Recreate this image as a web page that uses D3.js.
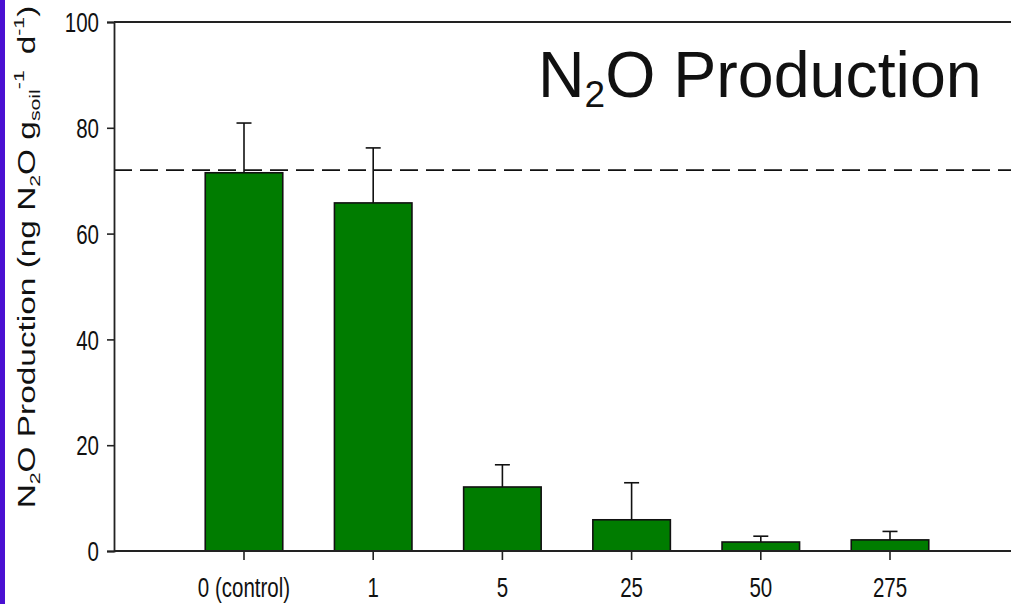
<!DOCTYPE html>
<html>
<head>
<meta charset="utf-8">
<script src="https://cdn.jsdelivr.net/npm/d3@7"></script>
<style>
  html, body { margin: 0; padding: 0; background: #fff; }
  svg { display: block; }
</style>
</head>
<body>
<svg id="chart" width="1011" height="604"></svg>
<script>
// Nitrification inhibitor dose (x categories) and mean N2O production with SE
const categories = ["0 (control)", "1", "5", "25", "50", "275"];
const meanValues = [71.5, 65.8, 12.1, 5.9, 1.7, 2.1];
const errorValues = [9.4, 10.4, 4.2, 7.0, 1.1, 1.6];
const yTicks = [0, 20, 40, 60, 80, 100];
const referenceLevel = 72;

const svg = d3.select("#chart");
const W = 1011, H = 604;
const FONT = "'Liberation Sans', Arial, sans-serif";
const STRETCH = 1.35; // the plot's lettering is drawn taller than wide

// Left accent strip
svg.append("rect").attr("x", 0).attr("y", 0).attr("width", 5).attr("height", H)
  .attr("fill", "#4a10d2");

const axisLeftX = 114;
const y = d3.scaleLinear().domain([0, 100]).range([551, 22]);
const x = d3.scaleBand().domain(categories)
  .range([179.4, 954.6]).paddingInner(0.4).paddingOuter(0.2);

const data = categories.map((c, i) => ({ cat: c, mean: meanValues[i], err: errorValues[i] }));

// Error bars (upper only), drawn behind bars
const eb = svg.append("g").attr("stroke", "#111").attr("stroke-width", 1.6);
data.forEach(d => {
  const cx = x(d.cat) + x.bandwidth() / 2;
  eb.append("line").attr("x1", cx).attr("x2", cx)
    .attr("y1", y(d.mean)).attr("y2", y(d.mean + d.err));
  eb.append("line").attr("x1", cx - 7.5).attr("x2", cx + 7.5)
    .attr("y1", y(d.mean + d.err)).attr("y2", y(d.mean + d.err));
});

// Bars
svg.append("g").selectAll("rect").data(data).join("rect")
  .attr("x", d => x(d.cat))
  .attr("y", d => y(d.mean))
  .attr("width", x.bandwidth())
  .attr("height", d => y(0) - y(d.mean))
  .attr("fill", "#007c00")
  .attr("stroke", "#111")
  .attr("stroke-width", 1.6);

// Dashed reference line at the control level
svg.append("line")
  .attr("x1", axisLeftX).attr("x2", W)
  .attr("y1", y(referenceLevel)).attr("y2", y(referenceLevel))
  .attr("stroke", "#111").attr("stroke-width", 1.8)
  .attr("stroke-dasharray", "18 8");

// Top frame line
svg.append("line")
  .attr("x1", axisLeftX).attr("x2", W)
  .attr("y1", y(100)).attr("y2", y(100))
  .attr("stroke", "#222").attr("stroke-width", 1.8);

// Y axis
const yAxis = svg.append("g").attr("transform", `translate(${axisLeftX},0)`)
  .call(d3.axisLeft(y).tickValues(yTicks).tickSize(7).tickPadding(9));
yAxis.select(".domain").attr("stroke", "#222").attr("stroke-width", 1.8);
yAxis.selectAll(".tick line").attr("stroke", "#222").attr("stroke-width", 1.6);
yAxis.selectAll(".tick text")
  .attr("font-family", FONT).attr("font-size", 20.5).attr("fill", "#111")
  .attr("x", 0).attr("dy", null).attr("y", 0)
  .attr("dominant-baseline", "central")
  .attr("transform", `translate(-15,0) scale(1,${STRETCH})`);

// X axis ticks and labels
const xAxis = svg.append("g").attr("transform", `translate(0,${y(0)})`)
  .call(d3.axisBottom(x).tickSize(9));
xAxis.select(".domain").remove();
xAxis.selectAll(".tick line").attr("stroke", "#222").attr("stroke-width", 1.6);
xAxis.selectAll(".tick text")
  .attr("font-family", FONT).attr("font-size", 20.5).attr("fill", "#111")
  .attr("y", 0).attr("dy", null)
  .attr("transform", `translate(0,46) scale(1,${STRETCH})`);
// X axis line spanning the full width
svg.append("line").attr("x1", axisLeftX).attr("x2", W)
  .attr("y1", y(0)).attr("y2", y(0))
  .attr("stroke", "#222").attr("stroke-width", 1.8);

// Y axis title with subscripts and superscripts
const yt = svg.append("text")
  .attr("transform", "translate(35,257) rotate(-90) scale(1.42,1)")
  .attr("text-anchor", "middle")
  .attr("font-family", FONT)
  .attr("font-size", 23.5).attr("fill", "#111");
yt.append("tspan").text("N");
yt.append("tspan").attr("font-size", 15).attr("dy", 5).text("2");
yt.append("tspan").attr("dy", -5).text("O Production (ng N");
yt.append("tspan").attr("font-size", 15).attr("dy", 5).text("2");
yt.append("tspan").attr("dy", -5).text("O g");
yt.append("tspan").attr("font-size", 15).attr("dy", 5).text("soil");
yt.append("tspan").attr("font-size", 15).attr("dy", -16).text("-1");
yt.append("tspan").attr("dy", 11).text("\u2009 d");
yt.append("tspan").attr("font-size", 15).attr("dy", -11).text("-1");
yt.append("tspan").attr("dy", 11).text(")");

// Chart title
const title = svg.append("text")
  .attr("x", 538).attr("y", 97)
  .attr("font-family", FONT)
  .attr("font-size", 64.5).attr("fill", "#111");
title.append("tspan").text("N");
title.append("tspan").attr("font-size", 37).attr("dy", 10).text("2");
title.append("tspan").attr("dy", -10).text("O Production");
</script>
</body>
</html>
